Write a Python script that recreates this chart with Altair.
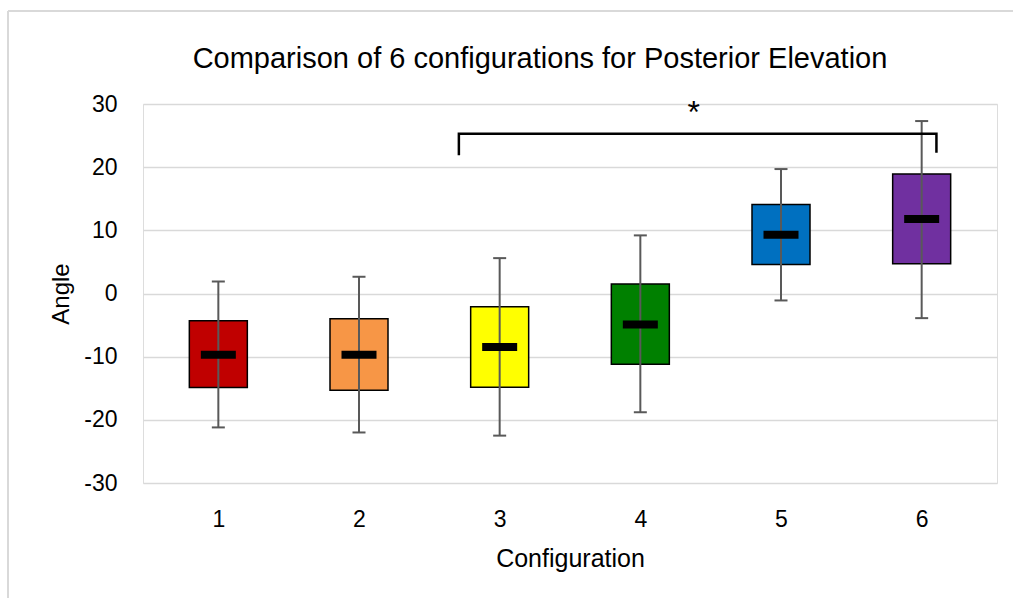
import altair as alt
import pandas as pd

configs = [1, 2, 3, 4, 5, 6]
whisker_low = [-21.2, -22.0, -22.5, -18.8, -1.1, -3.9]
q1 = [-14.9, -15.3, -14.85, -11.2, 4.6, 4.7]
median = [-9.7, -9.7, -8.45, -4.9, 9.3, 11.8]
q3 = [-4.3, -4.0, -2.1, 1.5, 14.1, 18.9]
whisker_high = [1.9, 2.65, 5.6, 9.2, 19.7, 27.3]
colors = ["#C00000", "#F79646", "#FFFF00", "#008000", "#0070C0", "#7030A0"]

bracket_x = [2.71, 2.71, 6.105, 6.105]
bracket_y = [21.9, 25.3, 25.3, 22.3]
star_x = [4.38]
star_y = [28.6]

title_text = ["Comparison of 6 configurations for Posterior Elevation"]

FONT = "Liberation Sans"

df = pd.DataFrame({
    "config": configs, "lo": whisker_low, "q1": q1, "med": median,
    "q3": q3, "hi": whisker_high, "color": colors,
})
bracket = pd.DataFrame({"x": bracket_x, "y": bracket_y, "o": list(range(len(bracket_x)))})
star = pd.DataFrame({"x": star_x, "y": star_y, "t": ["*"]})
tdf = pd.DataFrame({"t": title_text})

xscale = alt.Scale(domain=[0.5, 6.5], nice=False, zero=False)
yscale = alt.Scale(domain=[-30, 30], nice=False)

xaxis = alt.Axis(values=configs, grid=False, domain=False, ticks=False,
                 labelExpr="datum.value",
                 labelFontSize=23, labelPadding=25, labelColor="#000000",
                 title="Configuration", titleFontSize=25, titleFontWeight="normal",
                 titleColor="#000000", titlePadding=15, labelFont=FONT, titleFont=FONT)
yaxis = alt.Axis(values=[-30, -20, -10, 0, 10, 20, 30], grid=True, gridColor="#D9D9D9",
                 gridWidth=1.5, domain=False, ticks=False, labelExpr="datum.value",
                 labelFontSize=23, labelPadding=26,
                 labelColor="#000000", title="Angle", titleFontSize=24,
                 titleFontWeight="normal", titleColor="#000000", titlePadding=10,
                 labelFont=FONT, titleFont=FONT)

base = alt.Chart(df)

boxes = base.mark_bar(width=58, stroke="black", strokeWidth=1.5).encode(
    x=alt.X("config:Q", scale=xscale, axis=xaxis),
    y=alt.Y("q1:Q", scale=yscale, axis=yaxis),
    y2="q3:Q",
    fill=alt.Fill("color:N", scale=None),
)
whisk = base.mark_rule(color="#595959", strokeWidth=2).encode(
    x="config:Q", y="lo:Q", y2="hi:Q")
cap_lo = base.mark_tick(orient="horizontal", size=13, thickness=2, color="#595959",
                        opacity=1).encode(x="config:Q", y="lo:Q")
cap_hi = base.mark_tick(orient="horizontal", size=13, thickness=2, color="#595959",
                        opacity=1).encode(x="config:Q", y="hi:Q")
med = base.mark_tick(orient="horizontal", size=35, thickness=8, color="black",
                     opacity=1).encode(x="config:Q", y="med:Q")

br = alt.Chart(bracket).mark_line(color="black", strokeWidth=2.5).encode(
    x="x:Q", y="y:Q", order="o:Q")
st = alt.Chart(star).mark_text(font=FONT, fontSize=32, color="black", baseline="middle",
                               dy=0).encode(x="x:Q", y="y:Q", text="t:N")

title = alt.Chart(tdf).mark_text(font=FONT, fontSize=29, color="black",
                                 baseline="alphabetic", align="center").encode(
    x=alt.value(397), y=alt.value(-36), text="t:N")

frame_top = alt.Chart(df).mark_rule(color="#D9D9D9", strokeWidth=1.5).encode(
    x=alt.value(-135), x2=alt.value(880), y=alt.value(-93))
frame_left = alt.Chart(df).mark_rule(color="#D9D9D9", strokeWidth=1.5).encode(
    x=alt.value(-135), y=alt.value(-93), y2=alt.value(500))

chart = alt.layer(frame_top, frame_left, title, boxes, whisk, cap_lo, cap_hi, med, br, st).properties(
    width=854, height=379,
    autosize=alt.AutoSizeParams(type="none"),
    padding={"left": 143, "top": 104, "right": 16, "bottom": 115},
).configure_view(stroke=None).configure(background="white")

chart.save("out.html", embed_options={"renderer": "svg", "actions": False})
